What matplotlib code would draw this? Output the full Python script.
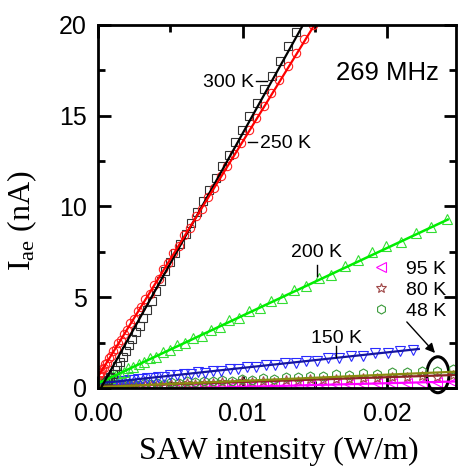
import matplotlib
matplotlib.use("Agg")
import matplotlib.pyplot as plt
from matplotlib.patches import Ellipse
from matplotlib.lines import Line2D

plt.rcParams['font.family'] = ['Liberation Sans', 'DejaVu Sans']
plt.rcParams['mathtext.fontset'] = 'custom'
plt.rcParams['mathtext.rm'] = 'Liberation Serif'
plt.rcParams['mathtext.it'] = 'Liberation Serif:italic'

# ---------------- data ----------------
# 300 K (black squares)
x_300 = [0.000380, 0.000481, 0.000594, 0.000719, 0.000855, 0.001004, 0.001164, 0.001337,
         0.001521, 0.001717, 0.001925, 0.002144, 0.002376, 0.002620, 0.002875, 0.003142,
         0.003421, 0.003713, 0.004015, 0.004330, 0.004657, 0.004996, 0.005346, 0.005708,
         0.006083, 0.006469, 0.006867, 0.007277, 0.007698, 0.008132, 0.008577, 0.009035,
         0.009504, 0.009985, 0.010478, 0.010983, 0.011500, 0.012029, 0.012569, 0.013121,
         0.013686]
y_300 = [0.15, 0.25, 0.36, 0.44, 0.58, 0.75, 0.97, 1.20, 1.44, 1.72, 2.04, 2.36, 2.71, 3.06,
         3.44, 3.85, 4.30, 4.82, 5.35, 5.90, 6.42, 6.93, 7.46, 7.92, 8.51, 9.08, 9.68, 10.30,
         10.92, 11.56, 12.23, 12.83, 13.55, 14.24, 14.97, 15.72, 16.46, 17.21, 18.00, 18.82,
         19.63]
fit_300_x = [0.0, 0.0145]
fit_300_y = [-0.29, 20.45]

# 250 K (red circles)
x_250 = [0.000099, 0.000155, 0.000223, 0.000304, 0.000397, 0.000502, 0.000620, 0.000750,
         0.000893, 0.001048, 0.001215, 0.001395, 0.001587, 0.001792, 0.002009, 0.002238,
         0.002480, 0.002734, 0.003001, 0.003280, 0.003571, 0.003875, 0.004191, 0.004520,
         0.004861, 0.005214, 0.005580, 0.005958, 0.006349, 0.006752, 0.007167, 0.007595,
         0.008035, 0.008488, 0.008953, 0.009430, 0.009920, 0.010422, 0.010937, 0.011464,
         0.012003, 0.012555, 0.013119, 0.013696, 0.014285, 0.014886]
y_250 = [0.72, 0.85, 0.88, 1.05, 1.10, 1.30, 1.40, 1.63, 1.75, 2.02, 2.16, 2.47, 2.64, 2.99,
         3.18, 3.58, 3.78, 4.22, 4.45, 4.93, 5.20, 5.70, 6.00, 6.55, 6.86, 7.45, 7.80, 8.42,
         8.80, 9.45, 9.86, 10.55, 11.00, 11.70, 12.25, 12.90, 13.50, 14.20, 14.85, 15.55,
         16.25, 16.98, 17.72, 18.46, 19.25, 20.02]
fit_250_x = [0.0, 0.0155]
fit_250_y = [0.62, 20.68]

# 200 K (green triangles)
x_200 = [0.000112, 0.000199, 0.000312, 0.000449, 0.000611, 0.000797, 0.001009, 0.001246,
         0.001508, 0.001794, 0.002106, 0.002442, 0.002804, 0.003190, 0.003601, 0.004037,
         0.004498, 0.004984, 0.005495, 0.006031, 0.006591, 0.007177, 0.007788, 0.008423,
         0.009083, 0.009769, 0.010479, 0.011214, 0.011974, 0.012759, 0.013569, 0.014404,
         0.015264, 0.016148, 0.017058, 0.017992, 0.018952, 0.019936, 0.020945, 0.021979,
         0.023038, 0.024123]
y_200 = [0.30, 0.30, 0.40, 0.40, 0.50, 0.53, 0.66, 0.70, 0.84, 0.90, 1.08, 1.14, 1.34, 1.42,
         1.64, 1.73, 1.98, 2.08, 2.35, 2.46, 2.77, 2.88, 3.22, 3.35, 3.72, 3.85, 4.24, 4.40,
         4.80, 4.98, 5.40, 5.60, 6.05, 6.25, 6.72, 7.05, 7.50, 7.80, 8.05, 8.55, 8.85, 9.30]
fit_200_x = [0.0, 0.0242]
fit_200_y = [0.25, 9.28]

# 150 K (blue down-triangles)
x_150 = [0.000152, 0.000237, 0.000341, 0.000464, 0.000606, 0.000767, 0.000947, 0.001146,
         0.001364, 0.001600, 0.001856, 0.002131, 0.002424, 0.002737, 0.003068, 0.003419,
         0.003788, 0.004176, 0.004583, 0.005010, 0.005455, 0.005919, 0.006402, 0.006904,
         0.007424, 0.007964, 0.008523, 0.009101, 0.009697, 0.010313, 0.010947, 0.011601,
         0.012273, 0.012964, 0.013675, 0.014404, 0.015152, 0.015919, 0.016705, 0.017510,
         0.018334, 0.019177, 0.020039, 0.020919, 0.021819]
y_150 = [0.22, 0.28, 0.25, 0.31, 0.28, 0.33, 0.31, 0.36, 0.34, 0.40, 0.38, 0.45, 0.43, 0.50,
         0.48, 0.56, 0.54, 0.63, 0.61, 0.70, 0.69, 0.78, 0.77, 0.86, 0.85, 0.95, 0.94, 1.05,
         1.04, 1.15, 1.15, 1.26, 1.27, 1.38, 1.38, 1.50, 1.51, 1.63, 1.64, 1.77, 1.78, 1.91,
         1.93, 2.06, 2.10]
fit_150_x = [0.0, 0.0222]
fit_150_y = [0.25, 2.15]

# low temperatures (shared sweep)
x_low = [0.000114, 0.000203, 0.000318, 0.000457, 0.000622, 0.000813, 0.001029, 0.001270,
         0.001537, 0.001829, 0.002146, 0.002489, 0.002858, 0.003251, 0.003670, 0.004115,
         0.004585, 0.005080, 0.005601, 0.006147, 0.006718, 0.007315, 0.007938, 0.008585,
         0.009258, 0.009957, 0.010681, 0.011430, 0.012205, 0.013005, 0.013830, 0.014681,
         0.015558, 0.016459, 0.017386, 0.018339, 0.019317, 0.020320, 0.021349, 0.022403,
         0.023482, 0.024587]
# 48 K (green hexagons)
y_48 = [0.10, 0.12, 0.09, 0.13, 0.11, 0.15, 0.12, 0.17, 0.14, 0.19, 0.16, 0.22, 0.18, 0.25,
        0.21, 0.28, 0.24, 0.32, 0.28, 0.36, 0.32, 0.40, 0.36, 0.45, 0.41, 0.50, 0.46, 0.56,
        0.52, 0.62, 0.58, 0.68, 0.64, 0.75, 0.71, 0.82, 0.78, 0.89, 0.86, 0.96, 0.94, 1.03]
fit_48_x = [0.0, 0.0248]
fit_48_y = [0.05, 0.90]
# 80 K (brown stars)
y_80 = [0.08, 0.10, 0.07, 0.11, 0.08, 0.12, 0.09, 0.13, 0.10, 0.15, 0.12, 0.17, 0.13, 0.19,
        0.15, 0.21, 0.17, 0.24, 0.20, 0.26, 0.22, 0.29, 0.25, 0.32, 0.28, 0.36, 0.32, 0.39,
        0.35, 0.43, 0.39, 0.47, 0.44, 0.52, 0.48, 0.56, 0.53, 0.61, 0.58, 0.66, 0.63, 0.71]
fit_80_x = [0.0, 0.0248]
fit_80_y = [0.07, 0.72]
# 95 K (magenta left-triangles)
y_95 = [0.02, 0.01, 0.02, 0.01, 0.02, 0.01, 0.02, 0.01, 0.02, 0.01, 0.03, 0.02, 0.03, 0.02,
        0.04, 0.03, 0.05, 0.04, 0.06, 0.05, 0.08, 0.07, 0.10, 0.09, 0.12, 0.11, 0.14, 0.13,
        0.16, 0.15, 0.18, 0.18, 0.21, 0.20, 0.24, 0.23, 0.27, 0.26, 0.30, 0.29, 0.33, 0.33]
fit_95_x = [0.0, 0.0248]
fit_95_y = [-0.14, 0.36]

x_ticks = [0.00, 0.01, 0.02]
x_ticklabels = ['0.00', '0.01', '0.02']
y_ticks = [0, 5, 10, 15, 20]

# ---------------- figure ----------------
fig = plt.figure(figsize=(4.58, 4.70), dpi=100)
ax = fig.add_axes([0.21397, 0.17447, 0.7825, 0.77234])

mk = dict(linestyle='none', markerfacecolor='none', markeredgewidth=0.8)

ax.plot(x_low, y_95, marker='<', markersize=6.5, markeredgecolor='#ff00ff', **mk)
ax.plot(x_low, y_80, marker='*', markersize=7, markeredgecolor='#a04848', **mk)
ax.plot(x_low, y_48, marker='h', markersize=6.5, markeredgecolor='#3a9a3a', **mk)
ax.plot(x_150, y_150, marker='v', markersize=7, markeredgecolor='#2a2aff', **mk)
ax.plot(x_200, y_200, marker='^', markersize=7, markeredgecolor='#33dd33', **mk)
ax.plot(x_300, y_300, marker='s', markersize=5.5, markeredgecolor='#333333', **mk)
ax.plot(x_250, y_250, marker='o', markersize=6, markeredgecolor='#ff2020', **mk)

ax.plot(fit_95_x, fit_95_y, color='#ff00ff', lw=1.6)
ax.plot(fit_80_x, fit_80_y, color='#8b2525', lw=1.6)
ax.plot(fit_48_x, fit_48_y, color='#8a8a10', lw=1.6)
ax.plot(fit_150_x, fit_150_y, color='#1515a0', lw=1.6)
ax.plot(fit_200_x, fit_200_y, color='#00ee00', lw=1.8)
ax.plot(fit_300_x, fit_300_y, color='black', lw=1.6)
ax.plot(fit_250_x, fit_250_y, color='#ff0000', lw=1.6)

ax.set_xlim(0, 0.0248)
ax.set_ylim(0, 20)
ax.set_xticks(x_ticks)
ax.set_xticklabels(x_ticklabels)
ax.set_yticks(y_ticks)
ax.set_xticks([0.005, 0.015], minor=True)
ax.set_yticks([2.5, 7.5, 12.5, 17.5], minor=True)
ax.tick_params(which='both', direction='in', top=True, right=True, width=2,
               labelsize=18)
ax.tick_params(axis='y', pad=8)
ax.tick_params(axis='x', pad=10)
ax.tick_params(which='major', length=9)
ax.tick_params(which='minor', length=5)
for s in ax.spines.values():
    s.set_linewidth(2)

ax.set_xlabel('SAW intensity (W/m)', fontfamily='Liberation Serif', fontsize=23)
ax.set_ylabel(r'I$_{\mathrm{ae}}$ (nA)', fontfamily='Liberation Serif', fontsize=23)
ax.xaxis.set_label_coords(0.505, -0.135)
ax.yaxis.set_label_coords(-0.165, 0.46)

# annotations
ax.text(0.01647, 16.97, '269 MHz', fontsize=18.5, ha='left', va='baseline')
ax.text(0.01082, 16.58, '300 K', fontsize=14, ha='right', va='baseline')
ax.plot([0.01093, 0.0117], [16.9, 16.9], color='black', lw=1)
ax.text(0.01120, 13.22, '250 K', fontsize=14, ha='left', va='baseline')
ax.plot([0.01038, 0.01100], [13.55, 13.55], color='black', lw=1)
ax.text(0.01513, 7.22, '200 K', fontsize=14, ha='center', va='baseline')
ax.plot([0.01513, 0.01513], [6.78, 6.17], color='black', lw=1)
ax.text(0.01647, 2.48, '150 K', fontsize=14, ha='center', va='baseline')
ax.plot([0.01647, 0.01647], [2.31, 1.72], color='black', lw=1)

handles = [
    Line2D([], [], marker='<', markersize=6.5, markeredgecolor='#ff00ff', **mk),
    Line2D([], [], marker='*', markersize=7, markeredgecolor='#a04848', **mk),
    Line2D([], [], marker='h', markersize=6.5, markeredgecolor='#3a9a3a', **mk),
]
ax.legend(handles, ['95 K', '80 K', '48 K'], loc='upper left',
          bbox_to_anchor=(0.762, 0.352), frameon=False, fontsize=14,
          handlelength=1.0, handletextpad=0.8, labelspacing=0.18,
          borderpad=0, borderaxespad=0)

ax.annotate('', xy=(0.02332, 1.93), xytext=(0.02137, 3.64),
            arrowprops=dict(arrowstyle='-|>', color='black', lw=1, mutation_scale=14,
                            shrinkA=0, shrinkB=0))
ax.add_patch(Ellipse((0.02352, 0.73), width=0.00154, height=1.98, fill=False,
                     edgecolor='black', lw=2.2, clip_on=False))

fig.savefig('out.png', dpi=100)
